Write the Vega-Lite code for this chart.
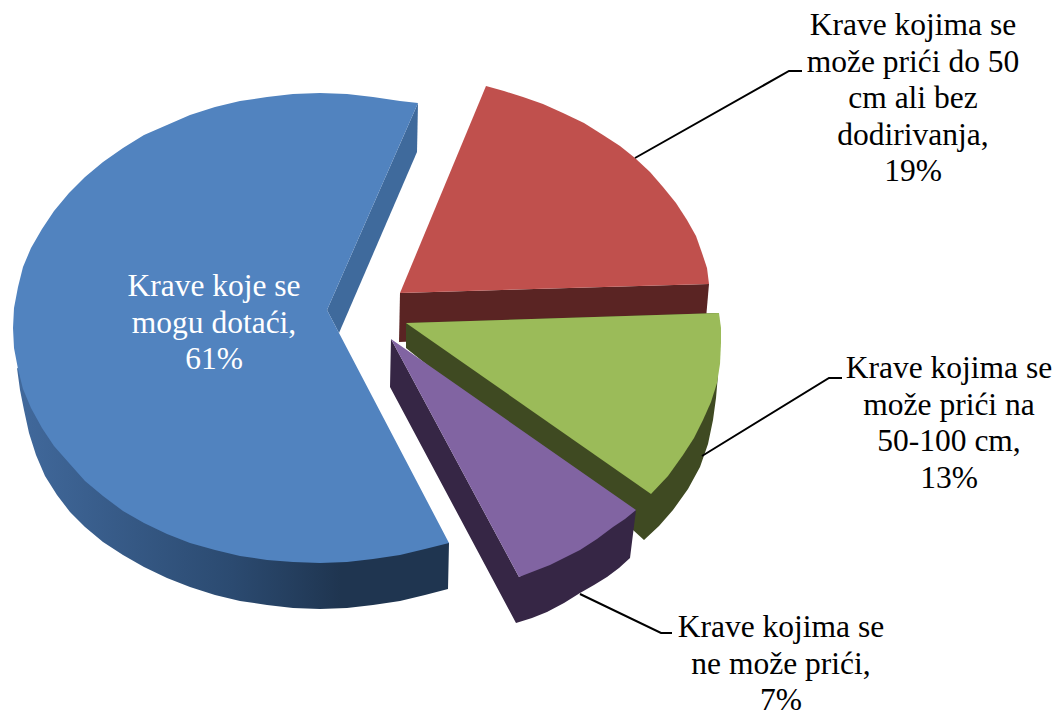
{"$schema":"https://vega.github.io/schema/vega-lite/v6.json","width":1057,"height":712,"padding":0,"autosize":{"type":"none"},"background":"white","config":{"view":{"stroke":null}},
"datasets":{"blueside":[
{"o":1,"x":17,"y":368},{"o":2,"x":20,"y":390},{"o":3,"x":24,"y":410},{"o":4,"x":29,"y":433},{"o":5,"x":36,"y":455},{"o":6,"x":45,"y":476},{"o":7,"x":57,"y":495},{"o":8,"x":70,"y":512},{"o":9,"x":85,"y":527},{"o":10,"x":103,"y":542},{"o":11,"x":123,"y":555},{"o":12,"x":144,"y":567},{"o":13,"x":167,"y":578},{"o":14,"x":190,"y":587},{"o":15,"x":215,"y":595},{"o":16,"x":240,"y":601},{"o":17,"x":267,"y":605},{"o":18,"x":293,"y":608},{"o":19,"x":320,"y":609},{"o":20,"x":347,"y":608},{"o":21,"x":373,"y":605},{"o":22,"x":400,"y":601},{"o":23,"x":425,"y":595},{"o":24,"x":448,"y":589},{"o":25,"x":449,"y":543},{"o":26,"x":333,"y":500}],
"shapes":[
{"s":"b_blue_inner","o":1,"x":418,"y":103},{"s":"b_blue_inner","o":2,"x":417,"y":152},{"s":"b_blue_inner","o":3,"x":339,"y":333},{"s":"b_blue_inner","o":4,"x":327,"y":310},
{"s":"c_blue_top","o":1,"x":339,"y":333},{"s":"c_blue_top","o":2,"x":327,"y":310},{"s":"c_blue_top","o":3,"x":418,"y":103},{"s":"c_blue_top","o":4,"x":400,"y":101},{"s":"c_blue_top","o":5,"x":373,"y":97},{"s":"c_blue_top","o":6,"x":347,"y":94},{"s":"c_blue_top","o":7,"x":320,"y":93},{"s":"c_blue_top","o":8,"x":293,"y":94},{"s":"c_blue_top","o":9,"x":267,"y":97},{"s":"c_blue_top","o":10,"x":240,"y":101},{"s":"c_blue_top","o":11,"x":215,"y":107},{"s":"c_blue_top","o":12,"x":190,"y":115},{"s":"c_blue_top","o":13,"x":167,"y":125},{"s":"c_blue_top","o":14,"x":144,"y":135},{"s":"c_blue_top","o":15,"x":123,"y":148},{"s":"c_blue_top","o":16,"x":103,"y":162},{"s":"c_blue_top","o":17,"x":85,"y":177},{"s":"c_blue_top","o":18,"x":69,"y":193},{"s":"c_blue_top","o":19,"x":54,"y":211},{"s":"c_blue_top","o":20,"x":42,"y":229},{"s":"c_blue_top","o":21,"x":31,"y":248},{"s":"c_blue_top","o":22,"x":23,"y":267},{"s":"c_blue_top","o":23,"x":18,"y":287},{"s":"c_blue_top","o":24,"x":14,"y":308},{"s":"c_blue_top","o":25,"x":13,"y":328},{"s":"c_blue_top","o":26,"x":14,"y":348},{"s":"c_blue_top","o":27,"x":18,"y":369},{"s":"c_blue_top","o":28,"x":23,"y":389},{"s":"c_blue_top","o":29,"x":31,"y":408},{"s":"c_blue_top","o":30,"x":42,"y":428},{"s":"c_blue_top","o":31,"x":54,"y":446},{"s":"c_blue_top","o":32,"x":69,"y":463},{"s":"c_blue_top","o":33,"x":85,"y":481},{"s":"c_blue_top","o":34,"x":103,"y":496},{"s":"c_blue_top","o":35,"x":123,"y":511},{"s":"c_blue_top","o":36,"x":144,"y":523},{"s":"c_blue_top","o":37,"x":167,"y":534},{"s":"c_blue_top","o":38,"x":190,"y":543},{"s":"c_blue_top","o":39,"x":215,"y":550},{"s":"c_blue_top","o":40,"x":240,"y":556},{"s":"c_blue_top","o":41,"x":267,"y":560},{"s":"c_blue_top","o":42,"x":293,"y":562},{"s":"c_blue_top","o":43,"x":320,"y":563},{"s":"c_blue_top","o":44,"x":347,"y":562},{"s":"c_blue_top","o":45,"x":373,"y":559},{"s":"c_blue_top","o":46,"x":400,"y":555},{"s":"c_blue_top","o":47,"x":425,"y":549},{"s":"c_blue_top","o":48,"x":449,"y":543},
{"s":"d_red_side","o":1,"x":400,"y":293},{"s":"d_red_side","o":2,"x":709,"y":284},{"s":"d_red_side","o":3,"x":705,"y":330},{"s":"d_red_side","o":4,"x":399,"y":342},
{"s":"e_red_top","o":1,"x":400,"y":293},{"s":"e_red_top","o":2,"x":486,"y":86},{"s":"e_red_top","o":3,"x":504,"y":91},{"s":"e_red_top","o":4,"x":523,"y":97},{"s":"e_red_top","o":5,"x":543,"y":104},{"s":"e_red_top","o":6,"x":563,"y":113},{"s":"e_red_top","o":7,"x":584,"y":123},{"s":"e_red_top","o":8,"x":603,"y":135},{"s":"e_red_top","o":9,"x":620,"y":146},{"s":"e_red_top","o":10,"x":635,"y":158},{"s":"e_red_top","o":11,"x":650,"y":172},{"s":"e_red_top","o":12,"x":663,"y":187},{"s":"e_red_top","o":13,"x":676,"y":203},{"s":"e_red_top","o":14,"x":687,"y":220},{"s":"e_red_top","o":15,"x":696,"y":236},{"s":"e_red_top","o":16,"x":702,"y":253},{"s":"e_red_top","o":17,"x":707,"y":268},{"s":"e_red_top","o":18,"x":709,"y":284},
{"s":"f_green_side","o":1,"x":406,"y":323},{"s":"f_green_side","o":2,"x":406,"y":348},{"s":"f_green_side","o":3,"x":633,"y":530},{"s":"f_green_side","o":4,"x":644,"y":540},{"s":"f_green_side","o":5,"x":659,"y":526},{"s":"f_green_side","o":6,"x":673,"y":510},{"s":"f_green_side","o":7,"x":688,"y":489},{"s":"f_green_side","o":8,"x":700,"y":467},{"s":"f_green_side","o":9,"x":708,"y":444},{"s":"f_green_side","o":10,"x":713,"y":420},{"s":"f_green_side","o":11,"x":716,"y":398},{"s":"f_green_side","o":12,"x":718,"y":375},{"s":"f_green_side","o":13,"x":719,"y":313},
{"s":"g_green_top","o":1,"x":406,"y":323},{"s":"g_green_top","o":2,"x":719,"y":313},{"s":"g_green_top","o":3,"x":721,"y":328},{"s":"g_green_top","o":4,"x":721,"y":343},{"s":"g_green_top","o":5,"x":720,"y":364},{"s":"g_green_top","o":6,"x":717,"y":383},{"s":"g_green_top","o":7,"x":711,"y":402},{"s":"g_green_top","o":8,"x":703,"y":420},{"s":"g_green_top","o":9,"x":694,"y":438},{"s":"g_green_top","o":10,"x":683,"y":455},{"s":"g_green_top","o":11,"x":668,"y":476},{"s":"g_green_top","o":12,"x":651,"y":494},
{"s":"h_purple_side","o":1,"x":391,"y":339},{"s":"h_purple_side","o":2,"x":390,"y":387},{"s":"h_purple_side","o":3,"x":516,"y":623},{"s":"h_purple_side","o":4,"x":532,"y":618},{"s":"h_purple_side","o":5,"x":547,"y":612},{"s":"h_purple_side","o":6,"x":564,"y":603},{"s":"h_purple_side","o":7,"x":580,"y":593},{"s":"h_purple_side","o":8,"x":594,"y":585},{"s":"h_purple_side","o":9,"x":607,"y":577},{"s":"h_purple_side","o":10,"x":619,"y":568},{"s":"h_purple_side","o":11,"x":630,"y":558},{"s":"h_purple_side","o":12,"x":636,"y":510},{"s":"h_purple_side","o":13,"x":519,"y":577},
{"s":"i_purple_top","o":1,"x":391,"y":339},{"s":"i_purple_top","o":2,"x":636,"y":510},{"s":"i_purple_top","o":3,"x":625,"y":519},{"s":"i_purple_top","o":4,"x":613,"y":527},{"s":"i_purple_top","o":5,"x":597,"y":539},{"s":"i_purple_top","o":6,"x":580,"y":550},{"s":"i_purple_top","o":7,"x":550,"y":565},{"s":"i_purple_top","o":8,"x":519,"y":577}
],
"leaders":[
{"s":"red","o":1,"x":635,"y":158},{"s":"red","o":2,"x":789,"y":71},{"s":"red","o":3,"x":802,"y":71},
{"s":"green","o":1,"x":702,"y":456},{"s":"green","o":2,"x":829,"y":378},{"s":"green","o":3,"x":842,"y":378},
{"s":"purple","o":1,"x":580,"y":594},{"s":"purple","o":2,"x":661,"y":633},{"s":"purple","o":3,"x":672,"y":633}
],
"labels":[
{"t":"Krave koje se\nmogu dotaći,\n61%","x":214,"y":287,"c":"w"},
{"t":"Krave kojima se\nmože prići do 50\ncm ali bez\ndodirivanja,\n19%","x":913,"y":26,"c":"k"},
{"t":"Krave kojima se\nmože prići na\n50-100 cm,\n13%","x":949,"y":369,"c":"k"},
{"t":"Krave kojima se\nne može prići,\n7%","x":781,"y":628,"c":"k"}
]},
"layer":[
{"data":{"name":"blueside"},"mark":{"type":"line","filled":true,"strokeWidth":0,"interpolate":"linear-closed","color":{"x1":0,"y1":0,"x2":1,"y2":0,"gradient":"linear","stops":[{"offset":0,"color":"#41699C"},{"offset":0.5,"color":"#2B4A70"},{"offset":0.75,"color":"#1F3550"},{"offset":1,"color":"#1F3550"}]}},
"encoding":{"x":{"field":"x","type":"quantitative","scale":{"domain":[0,1057]},"axis":null},"y":{"field":"y","type":"quantitative","scale":{"domain":[712,0]},"axis":null},"order":{"field":"o"}}},
{"data":{"name":"shapes"},"mark":{"type":"line","filled":true,"strokeWidth":0,"interpolate":"linear-closed"},
"encoding":{"x":{"field":"x","type":"quantitative","scale":{"domain":[0,1057]},"axis":null},"y":{"field":"y","type":"quantitative","scale":{"domain":[712,0]},"axis":null},"order":{"field":"o"},"detail":{"field":"s"},
"fill":{"field":"s","type":"nominal","legend":null,"scale":{"domain":["b_blue_inner","c_blue_top","d_red_side","e_red_top","f_green_side","g_green_top","h_purple_side","i_purple_top"],"range":["#3F6A9C","#5183BF","#5A2423","#C0504D","#3F4A22","#9BBB59","#362645","#8164A2"]}}}},
{"data":{"name":"leaders"},"mark":{"type":"line","color":"black","strokeWidth":2},"encoding":{"x":{"field":"x","type":"quantitative","scale":{"domain":[0,1057]},"axis":null},"y":{"field":"y","type":"quantitative","scale":{"domain":[712,0]},"axis":null},"order":{"field":"o"},"detail":{"field":"s"}}},
{"data":{"name":"labels"},"mark":{"type":"text","font":"Liberation Serif","fontSize":31.5,"lineBreak":"\n","lineHeight":36.5,"align":"center","baseline":"middle"},"encoding":{"x":{"field":"x","type":"quantitative","scale":{"domain":[0,1057]},"axis":null},"y":{"field":"y","type":"quantitative","scale":{"domain":[712,0]},"axis":null},"text":{"field":"t"},"color":{"field":"c","type":"nominal","legend":null,"scale":{"domain":["w","k"],"range":["white","black"]}}}}
]}
